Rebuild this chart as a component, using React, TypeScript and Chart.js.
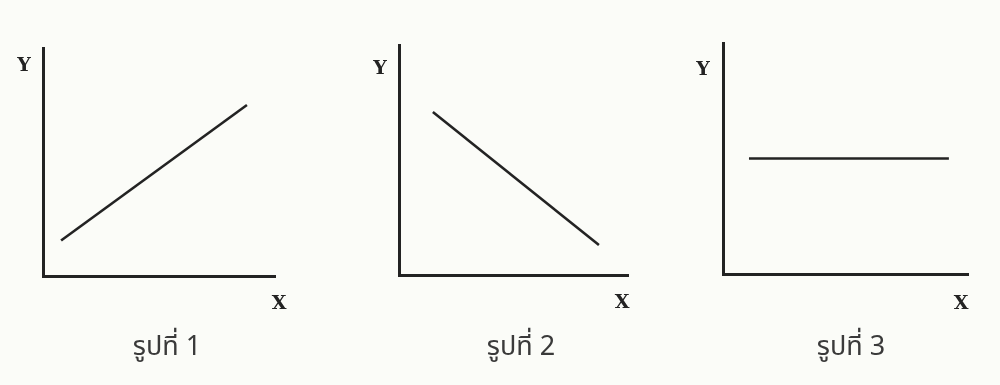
import React, { useEffect, useRef } from "react";
import { Chart, registerables } from "chart.js";

Chart.register(...registerables);

// Figure captions
const captions = ["รูปที่ 1", "รูปที่ 2", "รูปที่ 3"];
const axisNames = { x: "X", y: "Y" };

// Line endpoints of each figure, on a 0–10 scale for both axes
const fig1X = [0.78, 8.79];
const fig1Y = [1.56, 7.5];
const fig2X = [1.48, 8.73];
const fig2Y = [7.09, 1.3];
const fig3X = [1.06, 9.22];
const fig3Y = [5.0, 5.0];

const seriesX = [fig1X, fig2X, fig3X];
const seriesY = [fig1Y, fig2Y, fig3Y];

const W = 1000;
const H = 385;
const INK = "#232323";
const AXIS_FAMILY = '"DejaVu Serif", "Liberation Serif", serif';
const CAPTION_FONT = '27px "Noto Sans Thai", "Loma", "Garuda", "Tlwg Typo", sans-serif';

// Plot area of each panel and where its labels sit (page pixels)
const panels = [
  { left: 43, right: 275, top: 48, bottom: 276, yLab: [24, 64], xLab: [279, 302], cap: [167, 350] },
  { left: 399, right: 628, top: 45, bottom: 275, yLab: [380, 67], xLab: [622, 301], cap: [521, 350] },
  { left: 723, right: 968, top: 43, bottom: 274, yLab: [703, 68], xLab: [961, 302], cap: [851, 350] },
];

function AxisName({ text, at }: { text: string; at: number[] }) {
  return (
    <div
      style={{
        position: "absolute",
        left: at[0],
        top: at[1],
        transform: "translate(-50%, -50%)",
        fontFamily: AXIS_FAMILY,
        fontWeight: "bold",
        fontSize: 19,
        lineHeight: 1,
        color: INK,
        whiteSpace: "nowrap",
      }}
    >
      {text}
    </div>
  );
}

function Panel({ idx }: { idx: number }) {
  const ref = useRef<HTMLCanvasElement>(null);
  useEffect(() => {
    const p = panels[idx];
    const pts = seriesX[idx].map((x, i) => ({ x, y: seriesY[idx][i] }));
    const caption = {
      id: "panelCaption",
      afterDraw(chart: any) {
        const ctx = chart.ctx;
        ctx.save();
        ctx.textAlign = "center";
        ctx.textBaseline = "middle";
        ctx.fillStyle = "#3a3a3a";
        ctx.font = CAPTION_FONT;
        ctx.fillText(captions[idx], p.cap[0], p.cap[1]);
        ctx.restore();
      },
    };
    const axis = (min: number, max: number) => ({
      type: "linear" as const,
      min,
      max,
      grid: { display: false, drawTicks: false, tickLength: 0 },
      ticks: { display: false },
      border: { display: true, color: INK, width: 3 },
    });
    const chart = new Chart(ref.current!, {
      type: "line",
      data: {
        datasets: [
          { data: pts, borderColor: INK, borderWidth: 2.6, pointRadius: 0, fill: false, tension: 0 },
        ],
      },
      options: {
        animation: false,
        responsive: false,
        maintainAspectRatio: false,
        events: [],
        layout: {
          padding: { left: p.left, right: W - p.right, top: p.top, bottom: H - p.bottom },
        },
        plugins: { legend: { display: false }, tooltip: { enabled: false }, title: { display: false } },
        scales: { x: axis(0, 10), y: axis(0, 10) },
      },
      plugins: [caption],
    });
    return () => chart.destroy();
  }, [idx]);
  const p = panels[idx];
  return (
    <>
      <canvas ref={ref} width={W} height={H} style={{ position: "absolute", left: 0, top: 0, width: W, height: H }} />
      <AxisName text={axisNames.y} at={p.yLab} />
      <AxisName text={axisNames.x} at={p.xLab} />
    </>
  );
}

export default function App() {
  return (
    <div style={{ position: "fixed", left: 0, top: 0, width: W, height: H, background: "#fbfcf8", overflow: "hidden" }}>
      {panels.map((_, i) => (
        <Panel key={i} idx={i} />
      ))}
    </div>
  );
}
